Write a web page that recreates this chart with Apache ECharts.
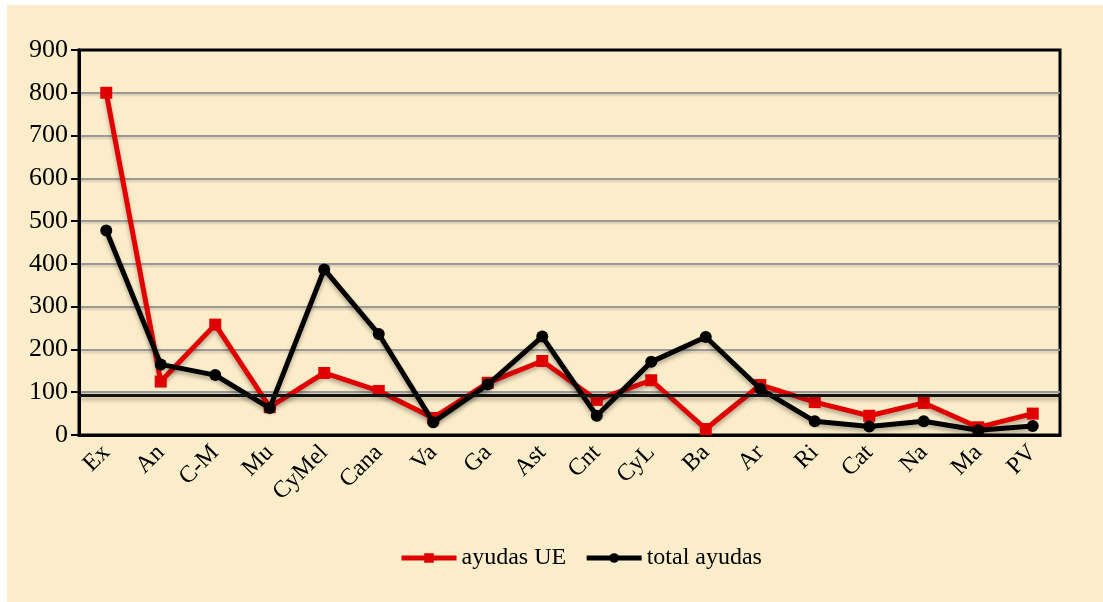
<!DOCTYPE html>
<html>
<head>
<meta charset="utf-8">
<title>ayudas</title>
<script src="https://cdn.jsdelivr.net/npm/echarts@6/dist/echarts.min.js"></script>
<style>
  html, body { margin: 0; padding: 0; background: #fff; }
  #main { position: absolute; left: 7px; top: 5px; width: 1096px; height: 597px; }
</style>
</head>
<body>
<div id="main"></div>
<script>
// regiones
var regiones = ['Ex', 'An', 'C-M', 'Mu', 'CyMel', 'Cana', 'Va', 'Ga', 'Ast', 'Cnt', 'CyL', 'Ba', 'Ar', 'Ri', 'Cat', 'Na', 'Ma', 'PV'];
// ayudas UE
var ayudasUE = [800, 125, 258, 65, 145, 103, 40, 122, 173, 82, 128, 14, 117, 77, 45, 75, 18, 50];
// total ayudas
var totalAyudas = [478, 165, 140, 63, 387, 236, 30, 118, 230, 45, 171, 229, 108, 32, 20, 32, 11, 21];
// linea horizontal
var lineaRef = 94;

var fuente = 'Liberation Serif, Times New Roman, serif';
var chart = echarts.init(document.getElementById('main'));
var option = {
  backgroundColor: '#fcedca',
  textStyle: { fontFamily: fuente },
  grid: {
    left: 72, right: 43, top: 45, bottom: 167,
    show: true,
    backgroundColor: '#fcedca',
    borderColor: '#000',
    borderWidth: 3
  },
  legend: {
    left: 387,
    top: 536,
    itemWidth: 55,
    itemHeight: 12,
    itemGap: 18,
    lineStyle: { width: 5 },
    textStyle: { fontFamily: fuente, fontSize: 24, color: '#000' },
    data: ['ayudas UE', 'total ayudas']
  },
  xAxis: {
    type: 'category',
    data: regiones,
    axisLine: { lineStyle: { color: '#000', width: 3 } },
    axisTick: { length: 8, lineStyle: { color: '#000', width: 2 } },
    axisLabel: { rotate: 45, margin: 14, fontSize: 24, color: '#000', fontFamily: fuente }
  },
  yAxis: {
    type: 'value',
    min: 0,
    max: 900,
    interval: 100,
    axisLine: { show: true, lineStyle: { color: '#000', width: 3 } },
    axisTick: { show: true, length: 8, lineStyle: { color: '#000', width: 2 } },
    axisLabel: { margin: 11, fontSize: 26, color: '#000', fontFamily: fuente },
    splitLine: {
      showMinLine: false,
      showMaxLine: false,
      lineStyle: {
        color: '#999', width: 2,
        shadowColor: 'rgba(0,0,0,0.15)', shadowBlur: 2, shadowOffsetY: 2
      }
    }
  },
  series: [
    {
      name: 'ayudas UE',
      type: 'line',
      data: ayudasUE,
      symbol: 'rect',
      symbolSize: 12,
      itemStyle: { color: '#e00000' },
      lineStyle: {
        color: '#e00000', width: 5,
        shadowColor: 'rgba(0,0,0,0.3)', shadowBlur: 4, shadowOffsetY: 3
      },
      z: 3
    },
    {
      name: 'total ayudas',
      type: 'line',
      data: totalAyudas,
      symbol: 'circle',
      symbolSize: 12,
      itemStyle: { color: '#000' },
      lineStyle: {
        color: '#000', width: 5,
        shadowColor: 'rgba(0,0,0,0.3)', shadowBlur: 4, shadowOffsetY: 3
      },
      markLine: {
        silent: true,
        symbol: 'none',
        label: { show: false },
        lineStyle: {
          color: '#111', width: 3, type: 'solid',
          shadowColor: 'rgba(0,0,0,0.3)', shadowBlur: 4, shadowOffsetY: 3
        },
        data: [{ yAxis: lineaRef }]
      },
      z: 4
    }
  ]
};
chart.setOption(option);
</script>
</body>
</html>
